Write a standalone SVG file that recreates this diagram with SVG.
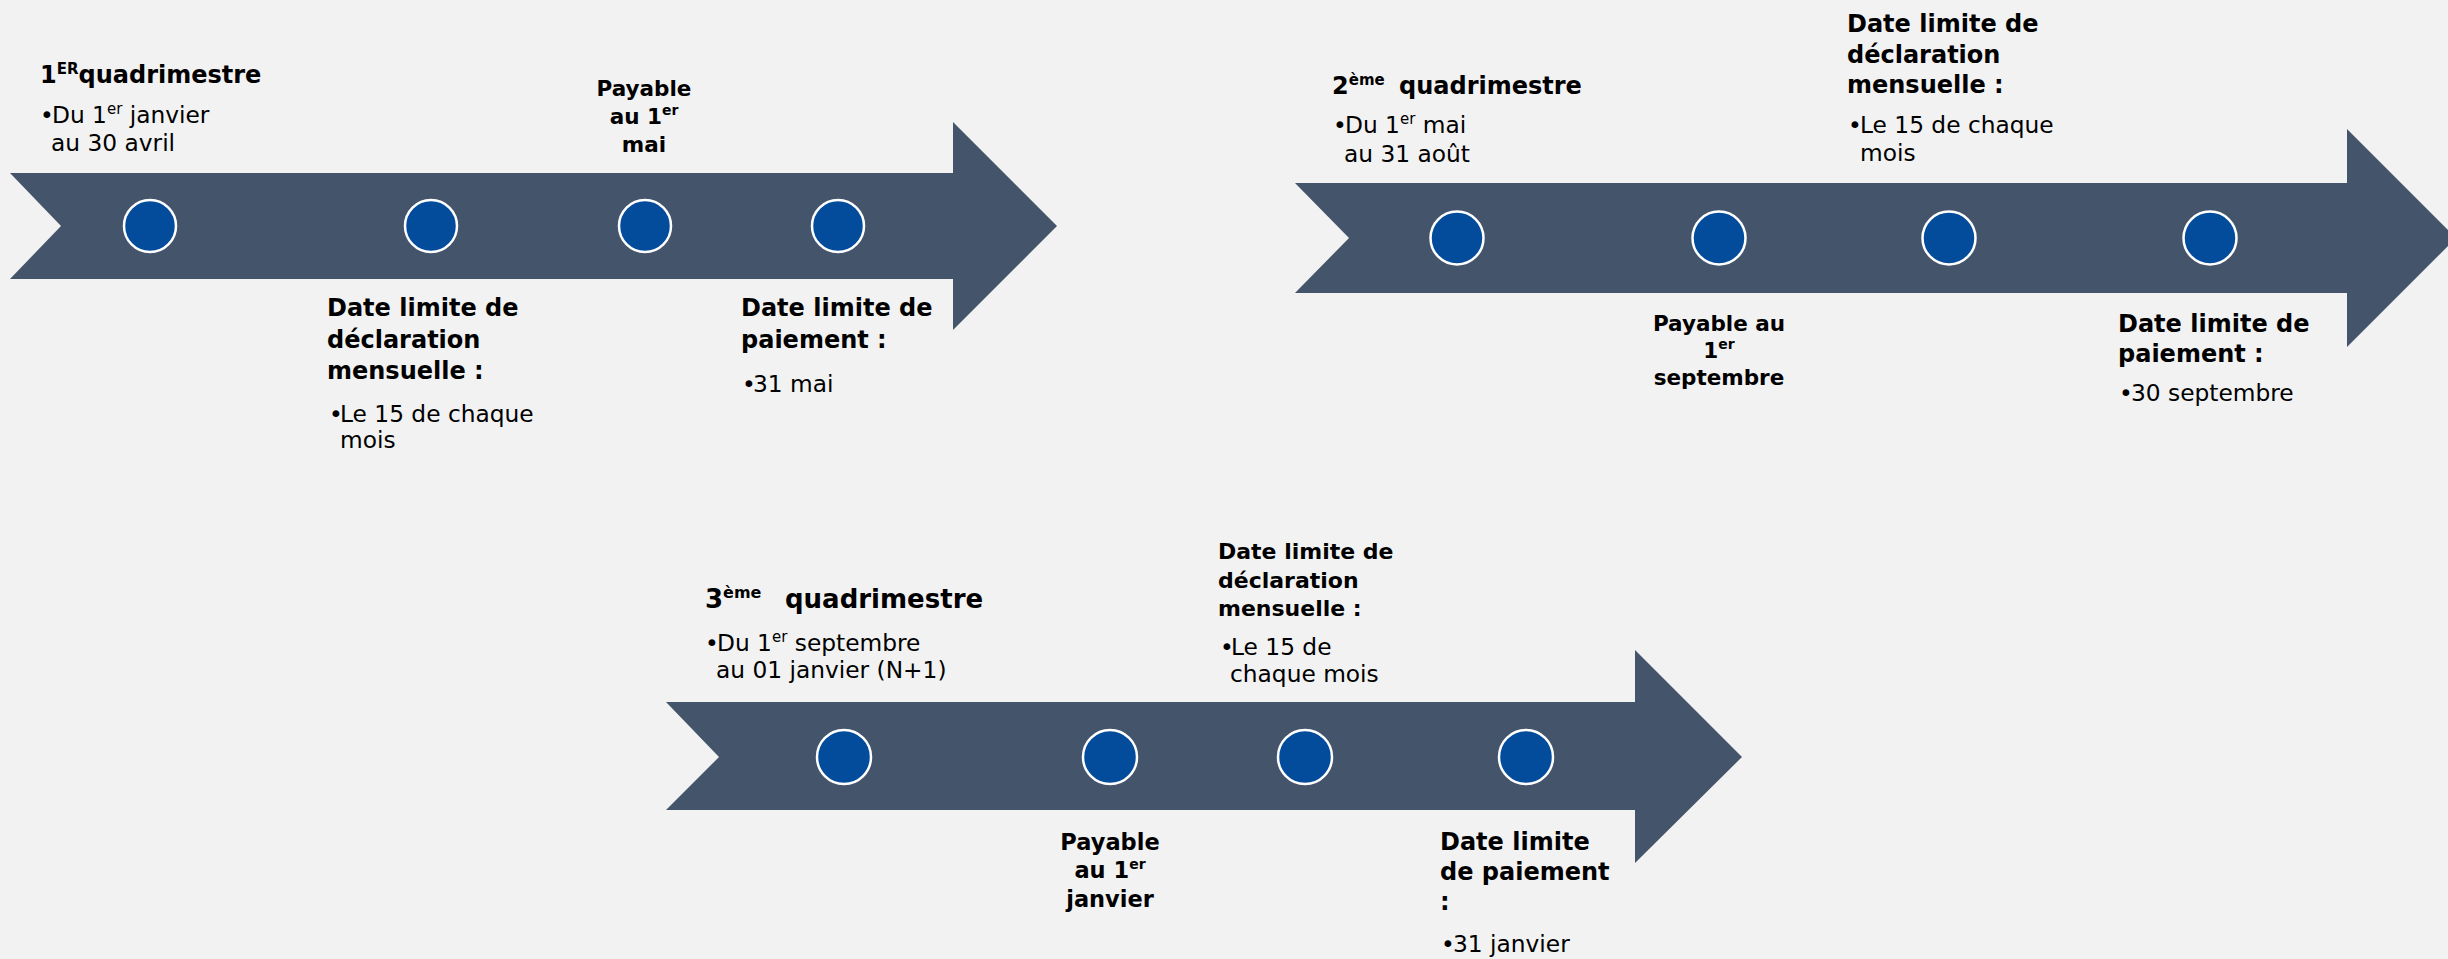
<svg xmlns="http://www.w3.org/2000/svg" width="2448" height="959" viewBox="0 0 2448 959">
<style>
.bg{fill:#F2F2F2}
.arrow{fill:#44546A}
.dot{fill:#034C9C;stroke:#FFFFFF;stroke-width:2.5}
.b{font-family:"DejaVu Sans",sans-serif;font-weight:bold;font-size:24px;fill:#000}
.p{font-family:"DejaVu Sans",sans-serif;font-weight:bold;font-size:21.5px;fill:#000;text-anchor:middle}
.r{font-family:"DejaVu Sans",sans-serif;font-size:23.3px;fill:#000}
</style>
<rect class="bg" x="0" y="0" width="2448" height="959"/>

<g id="timeline1">
  <polygon class="arrow" points="10,173 953,173 953,122 1057,226 953,330 953,279 10,279 61,226"/>
  <circle class="dot" cx="150" cy="226" r="26"/>
  <circle class="dot" cx="431" cy="226" r="26"/>
  <circle class="dot" cx="645" cy="226" r="26"/>
  <circle class="dot" cx="838" cy="226" r="26"/>
</g>
<g id="t1-quadrimestre">
  <text class="b" x="40" y="83">1<tspan font-size="15" dy="-9">ER</tspan><tspan dy="9">quadrimestre</tspan></text>
  <text class="r" x="40" y="123">•</text>
  <text class="r" x="52" y="123">Du 1<tspan font-size="15" dy="-9">er</tspan><tspan dy="9"> janvier</tspan></text>
  <text class="r" x="51" y="151">au 30 avril</text>
</g>
<g id="t1-payable">
  <text class="p" x="644" y="96">Payable</text>
  <text class="p" x="644" y="124">au 1<tspan font-size="14" dy="-9">er</tspan></text>
  <text class="p" x="644" y="152">mai</text>
</g>
<g id="t1-declaration">
  <text class="b" x="327" y="316">Date limite de</text>
  <text class="b" x="327" y="348">déclaration</text>
  <text class="b" x="327" y="379">mensuelle :</text>
  <text class="r" x="329" y="422">•</text>
  <text class="r" x="340" y="422">Le 15 de chaque</text>
  <text class="r" x="340" y="448">mois</text>
</g>
<g id="t1-paiement">
  <text class="b" x="741" y="316">Date limite de</text>
  <text class="b" x="741" y="348">paiement :</text>
  <text class="r" x="742" y="392">•</text>
  <text class="r" x="753" y="392">31 mai</text>
</g>

<g id="timeline2">
  <polygon class="arrow" points="1295,183 2347,183 2347,129 2456,238 2347,347 2347,293 1295,293 1349,238"/>
  <circle class="dot" cx="1457" cy="238" r="26.5"/>
  <circle class="dot" cx="1719" cy="238" r="26.5"/>
  <circle class="dot" cx="1949" cy="238" r="26.5"/>
  <circle class="dot" cx="2210" cy="238" r="26.5"/>
</g>
<g id="t2-quadrimestre">
  <text class="b" x="1332" y="94">2<tspan font-size="15" dy="-9">ème</tspan></text>
  <text class="b" x="1399" y="94">quadrimestre</text>
  <text class="r" x="1333" y="133">•</text>
  <text class="r" x="1345" y="133">Du 1<tspan font-size="15" dy="-9">er</tspan><tspan dy="9"> mai</tspan></text>
  <text class="r" x="1344" y="162">au 31 août</text>
</g>
<g id="t2-declaration">
  <text class="b" x="1847" y="32">Date limite de</text>
  <text class="b" x="1847" y="63">déclaration</text>
  <text class="b" x="1847" y="93">mensuelle :</text>
  <text class="r" x="1848" y="133">•</text>
  <text class="r" x="1860" y="133">Le 15 de chaque</text>
  <text class="r" x="1860" y="161">mois</text>
</g>
<g id="t2-payable">
  <text class="p" x="1719" y="331">Payable au</text>
  <text class="p" x="1719" y="358">1<tspan font-size="14" dy="-9">er</tspan></text>
  <text class="p" x="1719" y="385">septembre</text>
</g>
<g id="t2-paiement">
  <text class="b" x="2118" y="332">Date limite de</text>
  <text class="b" x="2118" y="362">paiement :</text>
  <text class="r" x="2119" y="401">•</text>
  <text class="r" x="2131" y="401">30 septembre</text>
</g>

<g id="timeline3">
  <polygon class="arrow" points="666,702 1635,702 1635,650 1742,757 1635,863 1635,810 666,810 719,757"/>
  <circle class="dot" cx="844" cy="757" r="27"/>
  <circle class="dot" cx="1110" cy="757" r="27"/>
  <circle class="dot" cx="1305" cy="757" r="27"/>
  <circle class="dot" cx="1526" cy="757" r="27"/>
</g>
<g id="t3-quadrimestre">
  <text class="b" x="705" y="608" style="font-size:26px">3<tspan font-size="16" dy="-10">ème</tspan></text>
  <text class="b" x="785" y="608" style="font-size:26px">quadrimestre</text>
  <text class="r" x="705" y="651">•</text>
  <text class="r" x="717" y="651">Du 1<tspan font-size="15" dy="-9">er</tspan><tspan dy="9"> septembre</tspan></text>
  <text class="r" x="716" y="678">au 01 janvier (N+1)</text>
</g>
<g id="t3-declaration">
  <text class="b" x="1218" y="559" style="font-size:22px">Date limite de</text>
  <text class="b" x="1218" y="588" style="font-size:22px">déclaration</text>
  <text class="b" x="1218" y="616" style="font-size:22px">mensuelle :</text>
  <text class="r" x="1220" y="655">•</text>
  <text class="r" x="1231" y="655">Le 15 de</text>
  <text class="r" x="1230" y="682">chaque mois</text>
</g>
<g id="t3-payable">
  <text class="p" x="1110" y="850" style="font-size:22.5px">Payable</text>
  <text class="p" x="1110" y="878" style="font-size:22.5px">au 1<tspan font-size="14" dy="-9">er</tspan></text>
  <text class="p" x="1110" y="907" style="font-size:22.5px">janvier</text>
</g>
<g id="t3-paiement">
  <text class="b" x="1440" y="850">Date limite</text>
  <text class="b" x="1440" y="880">de paiement</text>
  <text class="b" x="1440" y="910">:</text>
  <text class="r" x="1441" y="952">•</text>
  <text class="r" x="1453" y="952">31 janvier</text>
</g>
</svg>
